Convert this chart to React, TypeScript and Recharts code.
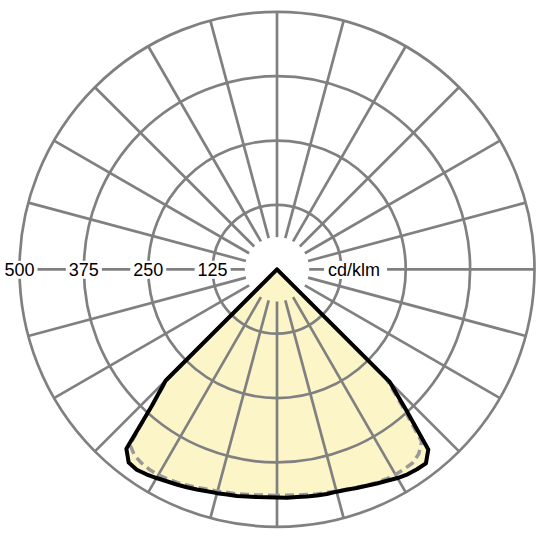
import React from "react";
import {
  RadarChart,
  Radar,
  PolarGrid,
  PolarAngleAxis,
  PolarRadiusAxis,
} from "recharts";

// gamma angles, 2.5° steps, clockwise from nadir (left half first)
const angles = [
  0, 2.5, 5, 7.5, 10, 12.5, 15, 17.5,
  20, 22.5, 25, 27.5, 30, 32.5, 35, 37.5,
  40, 42.5, 45, 47.5, 50, 52.5, 55, 57.5,
  60, 62.5, 65, 67.5, 70, 72.5, 75, 77.5,
  80, 82.5, 85, 87.5, 90, 92.5, 95, 97.5,
  100, 102.5, 105, 107.5, 110, 112.5, 115, 117.5,
  120, 122.5, 125, 127.5, 130, 132.5, 135, 137.5,
  140, 142.5, 145, 147.5, 150, 152.5, 155, 157.5,
  160, 162.5, 165, 167.5, 170, 172.5, 175, 177.5,
  180, 182.5, 185, 187.5, 190, 192.5, 195, 197.5,
  200, 202.5, 205, 207.5, 210, 212.5, 215, 217.5,
  220, 222.5, 225, 227.5, 230, 232.5, 235, 237.5,
  240, 242.5, 245, 247.5, 250, 252.5, 255, 257.5,
  260, 262.5, 265, 267.5, 270, 272.5, 275, 277.5,
  280, 282.5, 285, 287.5, 290, 292.5, 295, 297.5,
  300, 302.5, 305, 307.5, 310, 312.5, 315, 317.5,
  320, 322.5, 325, 327.5, 330, 332.5, 335, 337.5,
  340, 342.5, 345, 347.5, 350, 352.5, 355, 357.5,
];

// C0-C180 plane (solid), cd/klm
const solidCurve = [
  443, 443, 444, 445, 447, 448, 450, 452,
  455, 458, 461, 464, 468, 472, 475, 473,
  455, 360, 306, 0, 0, 0, 0, 0,
  0, 0, 0, 0, 0, 0, 0, 0,
  0, 0, 0, 0, 0, 0, 0, 0,
  0, 0, 0, 0, 0, 0, 0, 0,
  0, 0, 0, 0, 0, 0, 0, 0,
  0, 0, 0, 0, 0, 0, 0, 0,
  0, 0, 0, 0, 0, 0, 0, 0,
  0, 0, 0, 0, 0, 0, 0, 0,
  0, 0, 0, 0, 0, 0, 0, 0,
  0, 0, 0, 0, 0, 0, 0, 0,
  0, 0, 0, 0, 0, 0, 0, 0,
  0, 0, 0, 0, 0, 0, 0, 0,
  0, 0, 0, 0, 0, 0, 0, 0,
  0, 0, 0, 0, 0, 0, 310, 372,
  457, 475, 474, 472, 468, 463, 459, 455,
  452, 449, 447, 447, 446, 445, 444, 444,
];

// C90-C270 plane (dashed), cd/klm
const dashedCurve = [
  439, 439, 440, 441, 443, 444, 446, 448,
  451, 454, 457, 459, 461, 461, 459, 455,
  444, 360, 300, 0, 0, 0, 0, 0,
  0, 0, 0, 0, 0, 0, 0, 0,
  0, 0, 0, 0, 0, 0, 0, 0,
  0, 0, 0, 0, 0, 0, 0, 0,
  0, 0, 0, 0, 0, 0, 0, 0,
  0, 0, 0, 0, 0, 0, 0, 0,
  0, 0, 0, 0, 0, 0, 0, 0,
  0, 0, 0, 0, 0, 0, 0, 0,
  0, 0, 0, 0, 0, 0, 0, 0,
  0, 0, 0, 0, 0, 0, 0, 0,
  0, 0, 0, 0, 0, 0, 0, 0,
  0, 0, 0, 0, 0, 0, 0, 0,
  0, 0, 0, 0, 0, 0, 0, 0,
  0, 0, 0, 0, 0, 0, 300, 360,
  437, 452, 459, 460, 460, 459, 457, 454,
  451, 448, 446, 444, 443, 441, 440, 439,
];

// grid spokes every 15°
const spokes = [
  0, 15, 30, 45, 60, 75, 90, 105, 120, 135, 150, 165,
  180, 195, 210, 225, 240, 255, 270, 285, 300, 315, 330, 345,
];

const radiusTicks = [125, 250, 375, 500];
const unitLabel = "cd/klm";

const rows = angles.map((a, i) => ({
  angle: a,
  solid: solidCurve[i],
  dashed: dashedCurve[i],
}));
const spokeRows = spokes.map((a) => ({ angle: a, v: 500 }));

const W = 540;
const H = 540;
const CX = 277;
const CY = 269.3;
const R = 257.5;
const MAX = 500;
const HOLE = 62.5; // spokes start at this value
const FONT = "'Liberation Sans', Arial, sans-serif";
const GRID = "#808080";

const layer: React.CSSProperties = { position: "absolute", left: 0, top: 0 };

function RadiusTick(props: any) {
  const { x, y, payload } = props;
  return (
    <g>
      <rect x={x - 18} y={y - 8.5} width={36} height={18} fill="#fff" />
      <text
        x={x}
        y={y + 7}
        textAnchor="middle"
        fontSize={18}
        fontFamily={FONT}
        fill="#000"
      >
        {payload.value}
      </text>
    </g>
  );
}

export default function App() {
  return (
    <div style={{ position: "absolute", left: 0, top: 0, width: W, height: H, background: "#fff" }}>
      {/* fill */}
      <div style={layer}>
        <RadarChart
          width={W}
          height={H}
          data={rows}
          cx={CX}
          cy={CY}
          outerRadius={R}
          startAngle={-90}
          endAngle={-450}
          margin={{ top: 0, right: 0, bottom: 0, left: 0 }}
        >
          <PolarAngleAxis dataKey="angle" tick={false} axisLine={false} />
          <PolarRadiusAxis type="number" domain={[0, MAX]} tick={false} axisLine={false} />
          <Radar dataKey="solid" stroke="none" fill="#FCF5C8" fillOpacity={1} dot={false} isAnimationActive={false} />
        </RadarChart>
      </div>

      {/* grid + scale labels */}
      <div style={layer}>
        <RadarChart
          width={W}
          height={H}
          data={spokeRows}
          cx={CX}
          cy={CY}
          innerRadius={(R * HOLE) / MAX}
          outerRadius={R}
          margin={{ top: 0, right: 0, bottom: 0, left: 0 }}
        >
          <PolarGrid gridType="circle" stroke={GRID} strokeWidth={2.7} strokeOpacity={1} />
          <PolarAngleAxis dataKey="angle" tick={false} axisLine={false} />
          <PolarRadiusAxis
            type="number"
            angle={180}
            domain={[HOLE, MAX]}
            allowDataOverflow
            ticks={radiusTicks}
            tick={<RadiusTick />}
            axisLine={false}
            tickLine={false}
          />
          <Radar dataKey="v" stroke="none" fill="none" dot={false} isAnimationActive={false} />
        </RadarChart>
      </div>

      {/* curves */}
      <div style={layer}>
        <RadarChart
          width={W}
          height={H}
          data={rows}
          cx={CX}
          cy={CY}
          outerRadius={R}
          startAngle={-90}
          endAngle={-450}
          margin={{ top: 0, right: 0, bottom: 0, left: 0 }}
        >
          <PolarAngleAxis dataKey="angle" tick={false} axisLine={false} />
          <PolarRadiusAxis type="number" domain={[0, MAX]} tick={false} axisLine={false} />
          <Radar
            dataKey="dashed"
            stroke="#999999"
            strokeWidth={3.5}
            strokeDasharray="9 5"
            fill="none"
            dot={false}
            isAnimationActive={false}
          />
          <Radar
            dataKey="solid"
            stroke="#000"
            strokeWidth={4}
            strokeLinejoin="round"
            fill="none"
            dot={false}
            isAnimationActive={false}
          />
        </RadarChart>
      </div>

      {/* unit label */}
      <svg width={W} height={H} style={{ ...layer, pointerEvents: "none" }}>
        <rect x={324} y={261} width={63} height={18} fill="#fff" />
        <text x={354} y={276.3} textAnchor="middle" fontSize={18} fontFamily={FONT} fill="#000">
          {unitLabel}
        </text>
      </svg>
    </div>
  );
}
